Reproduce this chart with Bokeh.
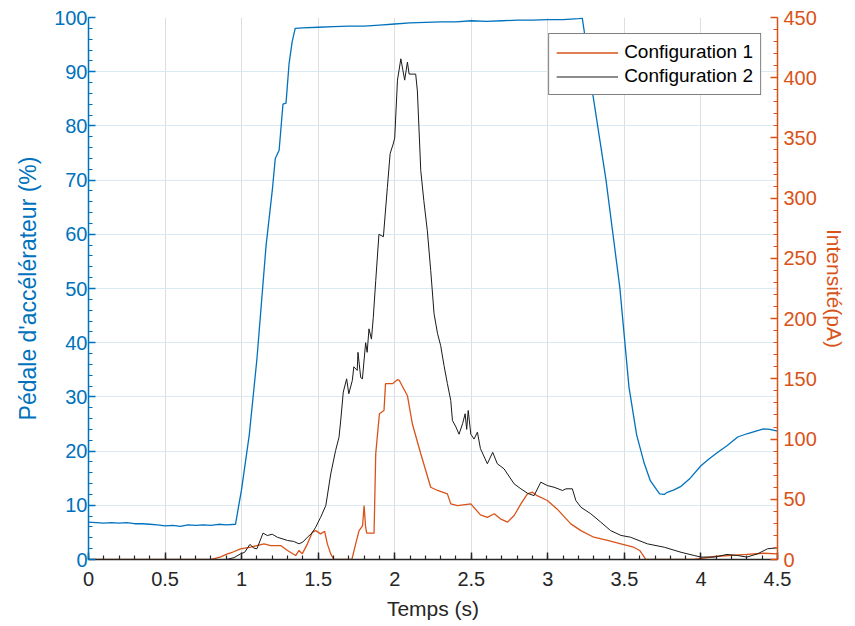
from bokeh.plotting import figure
from bokeh.models import Range1d, LinearAxis, FixedTicker, Legend
from bokeh.embed import file_html
from bokeh.resources import INLINE

# ---------------- data ----------------
x_ticks = [0, 0.5, 1, 1.5, 2, 2.5, 3, 3.5, 4, 4.5]
x_tick_labels = ["0", "0.5", "1", "1.5", "2", "2.5", "3", "3.5", "4", "4.5"]
left_ticks = [0, 10, 20, 30, 40, 50, 60, 70, 80, 90, 100]
right_ticks = [0, 50, 100, 150, 200, 250, 300, 350, 400, 450]

t_pedal = [0, 0.05, 0.1, 0.15, 0.2, 0.25, 0.3, 0.35, 0.4, 0.45, 0.5, 0.55, 0.6, 0.65,
           0.7, 0.75, 0.8, 0.85, 0.9, 0.96, 1.0, 1.05, 1.1, 1.16, 1.2, 1.22, 1.245,
           1.27, 1.29, 1.31, 1.33, 1.35, 1.4, 1.5, 1.6, 1.7, 1.8, 1.9, 2.0, 2.1, 2.2,
           2.3, 2.4, 2.5, 2.6, 2.7, 2.8, 2.9, 3.0, 3.1, 3.2, 3.225, 3.24, 3.29, 3.38,
           3.47, 3.53, 3.58, 3.63, 3.67, 3.70, 3.73, 3.76, 3.78, 3.82, 3.87, 3.93,
           4.0, 4.05, 4.11, 4.17, 4.24, 4.3, 4.37, 4.41, 4.45, 4.5]
pedal = [6.9, 6.8, 6.7, 6.8, 6.7, 6.8, 6.6, 6.6, 6.5, 6.4, 6.2, 6.3, 6.1, 6.4,
         6.3, 6.4, 6.3, 6.5, 6.4, 6.5, 13, 23, 37, 58, 68, 74, 75.5,
         84, 84.2, 91.5, 95.5, 98, 98.1, 98.2, 98.3, 98.4, 98.4, 98.6, 98.8, 99.0, 99.1,
         99.2, 99.2, 99.4, 99.3, 99.4, 99.5, 99.5, 99.6, 99.6, 99.8, 99.9, 97, 86.5, 70,
         50.2, 31.8, 23, 17.7, 14.5, 13.3, 12.1, 12.0, 12.4, 12.8, 13.5, 15,
         17.3, 18.5, 19.8, 21, 22.6, 23.2, 23.8, 24.1, 24.0, 23.7]

t_cfg1 = [0, 0.8, 0.86, 0.907, 0.94, 0.993, 1.06, 1.10, 1.146, 1.19, 1.255, 1.30,
          1.353, 1.375, 1.396, 1.43, 1.462, 1.484, 1.516, 1.542, 1.56, 1.582, 1.603,
          1.72, 1.745, 1.767, 1.79, 1.80, 1.81, 1.817, 1.865, 1.876, 1.90, 1.93, 1.94,
          1.985, 2.02, 2.03, 2.083, 2.115, 2.17, 2.235, 2.28, 2.344, 2.366, 2.41,
          2.497, 2.56, 2.605, 2.65, 2.69, 2.737, 2.78, 2.824, 2.867, 2.9, 2.93, 2.997,
          3.06, 3.15, 3.216, 3.3, 3.39, 3.477, 3.56, 3.6, 3.63, 3.64, 3.956, 4.087,
          4.30, 4.41, 4.5]
cfg1 = [0, 0, 2, 4.7, 6, 8.9, 10.2, 11.6, 13, 11.6, 11.6, 7.5,
        3.3, 7.5, 4.7, 13, 22.7, 24, 21.3, 23.5, 13, 4.7, 0,
        0, 13, 24, 28, 44.8, 26.8, 21.9, 21.9, 87.8, 121, 123.7, 146,
        146, 149.5, 148.6, 136, 112.7, 87.8, 60, 57.3, 54.5, 46.2, 44.8,
        46.2, 37, 35, 38, 33.8, 31, 36.5, 46.2, 54.5, 55.9, 53, 49,
        42, 29.6, 24, 18.5, 15.8, 13, 10.2, 7.5, 2, 0, 0, 2.5,
        4.2, 5.2, 4.7]

t_cfg2 = [0, 0.9, 0.95, 0.993, 1.02, 1.054, 1.08, 1.10, 1.14, 1.168, 1.2, 1.233,
          1.27, 1.30, 1.34, 1.375, 1.40, 1.43, 1.46, 1.484, 1.50, 1.516, 1.55, 1.582,
          1.614, 1.636, 1.647, 1.664, 1.686, 1.70, 1.723, 1.733, 1.755, 1.76, 1.778,
          1.789, 1.81, 1.82, 1.832, 1.848, 1.86, 1.876, 1.897, 1.926, 1.952, 1.97,
          1.99, 2.0, 2.018, 2.04, 2.065, 2.083, 2.094, 2.137, 2.148, 2.17, 2.19,
          2.213, 2.235, 2.257, 2.28, 2.30, 2.322, 2.344, 2.366, 2.377, 2.40, 2.42,
          2.443, 2.46, 2.47, 2.48, 2.497, 2.518, 2.54, 2.56, 2.605, 2.64, 2.67, 2.714,
          2.78, 2.824, 2.867, 2.91, 2.954, 2.997, 3.04, 3.096, 3.118, 3.16, 3.183,
          3.216, 3.28, 3.346, 3.41, 3.477, 3.54, 3.65, 3.76, 3.87, 3.956, 4.0, 4.087,
          4.17, 4.24, 4.30, 4.37, 4.435, 4.5]
cfg2 = [0, 0, 1.5, 4.7, 6, 12.5, 9.5, 8.9, 21.9, 19.9, 21, 18.5,
        17, 15.8, 15, 13, 14.5, 18.5, 22, 26.8, 31, 35, 44.8, 71,
        90.5, 101.5, 115, 139, 150, 137.6, 148.6, 160, 157, 172, 151,
        150, 180, 172, 191.5, 183, 201, 231.6, 270, 268, 309, 337,
        345, 350, 398, 415.7, 398, 413, 403, 403, 389, 323, 298,
        273, 240, 204, 187.4, 177.7, 161, 146, 132, 115.4, 110, 104,
        112.7, 121, 108, 123.7, 104, 100, 105.7, 92, 79.5, 89, 79.5, 75.3,
        62.8, 58.7, 55, 53, 64.2, 61.4, 60, 57.3, 58.7, 58.7, 49,
        43.4, 38, 31, 24, 20, 18.5, 13, 10.2, 6, 3.3, 2, 2,
        4.2, 3.3, 2, 4.7, 8.9, 9.7]

# ---------------- styling ----------------
BLUE = "#0072BD"
ORANGE = "#D95319"
DARK = "#262626"
FONT = "Liberation Sans"

p = figure(frame_width=689, frame_height=542,
           x_range=Range1d(0, 4.5), y_range=Range1d(0, 100),
           output_backend="svg", toolbar_location=None,
           min_border_left=88, min_border_right=78,
           min_border_top=17, min_border_bottom=67)
p.extra_y_ranges = {"pa": Range1d(0, 450)}
p.outline_line_color = None
p.background_fill_color = "white"


def style_axis(ax, col, label_size):
    ax.axis_line_color = col
    ax.axis_line_width = 1.5
    ax.major_tick_line_color = col
    ax.minor_tick_line_color = col
    ax.major_tick_line_width = 1.5
    ax.minor_tick_line_width = 1.2
    ax.major_tick_in = 7
    ax.major_tick_out = 0
    ax.minor_tick_in = 4
    ax.minor_tick_out = 0
    ax.major_label_text_color = col
    ax.major_label_text_font = FONT
    ax.major_label_text_font_size = "20px"
    ax.axis_label_text_color = col
    ax.axis_label_text_font = FONT
    ax.axis_label_text_font_size = label_size
    ax.axis_label_text_font_style = "normal"


# x axis
xa = p.xaxis[0]
xa.ticker = FixedTicker(ticks=x_ticks,
                        minor_ticks=[i / 10 for i in range(0, 46)])
xa.major_label_overrides = {t: l for t, l in zip(x_ticks, x_tick_labels)}
xa.axis_label = "Temps (s)"
style_axis(xa, DARK, "21px")
xa.major_label_standoff = 12
xa.axis_label_standoff = 8

ya = p.yaxis[0]
ya.ticker = FixedTicker(ticks=left_ticks, minor_ticks=list(range(0, 101, 2)))
ya.axis_label = "Pédale d'accélérateur (%)"
style_axis(ya, BLUE, "23px")
ya.major_label_standoff = 1
ya.axis_label_standoff = 10

ra = LinearAxis(y_range_name="pa",
                ticker=FixedTicker(ticks=right_ticks, minor_ticks=list(range(0, 451, 10))),
                axis_label="Intensité(pA)")
style_axis(ra, ORANGE, "21px")
ra.major_label_standoff = 6
ra.axis_label_standoff = 3
p.add_layout(ra, "right")

p.xgrid.grid_line_color = "#dedede"
p.xgrid.grid_line_width = 1
p.ygrid.grid_line_color = "#d9eaf5"
p.ygrid.grid_line_width = 1

# lines
p.line(t_pedal, pedal, line_color=BLUE, line_width=1.3)
r1 = p.line(t_cfg1, cfg1, line_color=ORANGE, line_width=1.3, y_range_name="pa")
r2 = p.line(t_cfg2, cfg2, line_color="#1a1a1a", line_width=1.0, y_range_name="pa")

legend = Legend(items=[("Configuration 1", [r1]), ("Configuration 2", [r2])],
                location="top_right", margin=16, padding=7, spacing=2,
                glyph_width=62, glyph_height=21, label_height=21,
                label_standoff=6, border_line_color="black", border_line_width=1,
                label_text_font=FONT, label_text_font_size="19px",
                label_text_color="black", background_fill_alpha=1)
p.add_layout(legend)

open("out.html", "w").write(file_html(p, INLINE))
